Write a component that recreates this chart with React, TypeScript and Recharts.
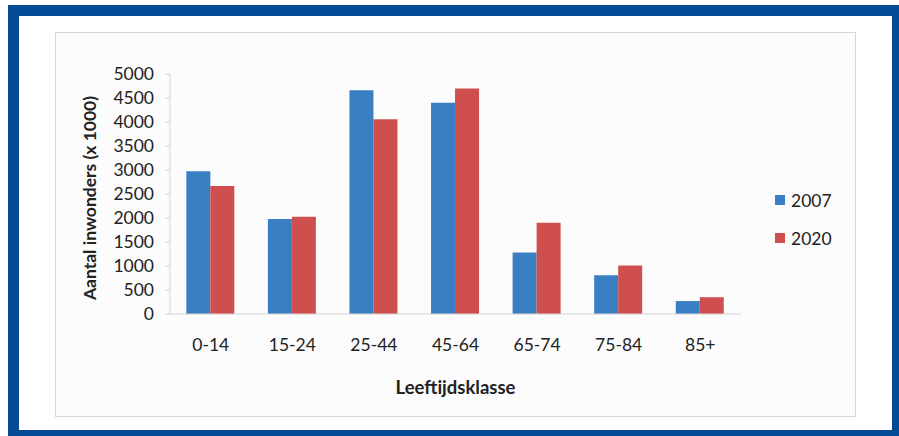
import { BarChart, Bar, XAxis, YAxis, Legend, Label } from 'recharts';

const categories = ['0-14', '15-24', '25-44', '45-64', '65-74', '75-84', '85+'];
const values2007 = [2975, 1980, 4660, 4400, 1280, 805, 270];
const values2020 = [2665, 2025, 4055, 4700, 1900, 1010, 350];
const yTicks = [0, 500, 1000, 1500, 2000, 2500, 3000, 3500, 4000, 4500, 5000];

const data = categories.map((c, i) => ({
    klasse: c,
    '2007': values2007[i],
    '2020': values2020[i],
}));

const FONT = 'Lato, "Open Sans", sans-serif';
const BLUE = '#3a7ec3';
const RED = '#cf4f4e';
const AXIS = '#d4d4d4';

function YTitle({ viewBox }: any) {
    const cx = viewBox.x + 34;
    const cy = viewBox.y + viewBox.height / 2 + 4;
    return (
        <text
            x={cx}
            y={cy}
            transform={`rotate(-90 ${cx} ${cy})`}
            textAnchor="middle"
            dominantBaseline="central"
            fontFamily={FONT}
            fontWeight={700}
            fontSize={17.5}
            fill="#222"
        >
            Aantal inwonders (x 1000)
        </text>
    );
}

function XTitle({ viewBox }: any) {
    return (
        <text
            x={viewBox.x + viewBox.width / 2}
            y={viewBox.y + 79.5}
            textAnchor="middle"
            fontFamily={FONT}
            fontWeight={700}
            fontSize={18.5}
            fill="#222"
        >
            Leeftijdsklasse
        </text>
    );
}

function LegendBox({ payload }: any) {
    return (
        <div style={{ fontFamily: FONT, fontSize: 17.5, color: '#222' }}>
            {(payload || []).map((p: any) => (
                <div key={p.value} style={{ display: 'flex', alignItems: 'center', height: 38 }}>
                    <span style={{ width: 10, height: 10, background: p.color, marginRight: 6, display: 'inline-block' }} />
                    {p.value}
                </div>
            ))}
        </div>
    );
}

export default function App() {
    return (
        <div style={{ position: 'absolute', left: 0, top: 0, width: 899, height: 436, background: '#fff', overflow: 'hidden' }}>
            <div
                style={{
                    position: 'absolute',
                    left: 8,
                    top: 5,
                    width: 891,
                    height: 431,
                    boxSizing: 'border-box',
                    borderStyle: 'solid',
                    borderColor: '#024b94',
                    borderWidth: '11px 7px 6px 11px',
                }}
            />
            <div
                style={{
                    position: 'absolute',
                    left: 55,
                    top: 32,
                    width: 801,
                    height: 385,
                    boxSizing: 'border-box',
                    border: '1px solid #d6d6d6',
                    background: '#fcfcfc',
                }}
            />
            <div style={{ position: 'absolute', left: 55, top: 32 }}>
                <BarChart
                    width={801}
                    height={385}
                    data={data}
                    margin={{ top: 42, right: 115, bottom: 0, left: 0 }}
                    barCategoryGap="20%"
                    barGap={0}
                >
                    <XAxis
                        dataKey="klasse"
                        height={103}
                        stroke={AXIS}
                        tickLine={false}
                        tickSize={0}
                        tickMargin={25}
                        tick={{ fill: '#222', fontSize: 17.5, fontFamily: FONT }}
                    >
                        <Label content={<XTitle />} />
                    </XAxis>
                    <YAxis
                        width={115}
                        domain={[0, 5000]}
                        ticks={yTicks}
                        interval={0}
                        stroke={AXIS}
                        tickSize={5}
                        tickMargin={11}
                        tick={{ fill: '#222', fontSize: 17.5, fontFamily: FONT }}
                    >
                        <Label content={<YTitle />} />
                    </YAxis>
                    <Legend
                        layout="horizontal"
                        verticalAlign="middle"
                        align="center"
                        content={<LegendBox />}
                        wrapperStyle={{ left: 720, top: 149, right: 'auto', bottom: 'auto', width: 'auto' }}
                    />
                    <Bar dataKey="2007" fill={BLUE} isAnimationActive={false} />
                    <Bar dataKey="2020" fill={RED} isAnimationActive={false} />
                </BarChart>
            </div>
        </div>
    );
}
